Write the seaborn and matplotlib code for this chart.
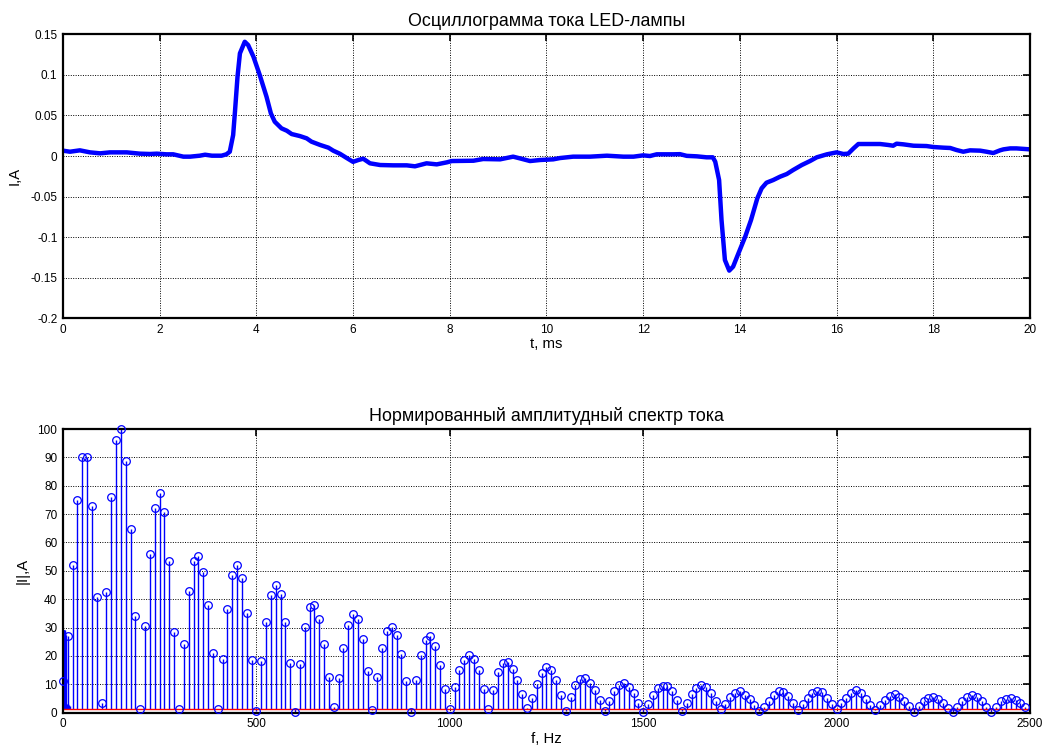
import numpy as np
import pandas as pd
import matplotlib
matplotlib.use("Agg")
import matplotlib.pyplot as plt
import seaborn as sns

# --- current waveform over one mains period (time in ms, current in A) ---
t_ms = [0.00, 0.145, 0.35, 0.56, 0.77, 0.97, 1.32, 1.59, 1.80, 1.94, 2.14, 2.28,
        2.49, 2.63, 2.83, 2.94, 3.08, 3.28, 3.38, 3.45, 3.52, 3.56, 3.61, 3.66,
        3.76, 3.83, 3.94, 4.07, 4.21, 4.30, 4.38, 4.52, 4.63, 4.73, 4.90, 5.04,
        5.14, 5.32, 5.49, 5.59, 5.73, 5.87, 6.00, 6.11, 6.21, 6.35, 6.56, 6.83,
        7.11, 7.28, 7.52, 7.73, 7.94, 8.04, 8.49, 8.69, 9.04, 9.31, 9.45, 9.66,
        9.87, 10.14, 10.28, 10.55, 10.90, 11.25, 11.59, 11.80, 12.00, 12.14, 12.28,
        12.62, 12.76, 12.90, 13.11, 13.31, 13.44, 13.49, 13.57, 13.62, 13.69, 13.78,
        13.86, 13.97, 14.11, 14.23, 14.29, 14.36, 14.45, 14.55, 14.69, 14.83, 14.97,
        15.10, 15.28, 15.45, 15.59, 15.80, 16.00, 16.14, 16.24, 16.35, 16.45, 16.62,
        16.90, 17.07, 17.17, 17.24, 17.38, 17.59, 17.86, 18.00, 18.21, 18.35, 18.48,
        18.62, 18.76, 18.97, 19.10, 19.24, 19.38, 19.45, 19.59, 19.72, 20.00]
i_amp = [0.0066, 0.0053, 0.0070, 0.0045, 0.0033, 0.0045, 0.0045, 0.0029, 0.0025,
         0.0029, 0.0021, 0.0021, -0.0008, -0.0008, 0.0004, 0.0016, 0.0004, 0.0004,
         0.0021, 0.0053, 0.0259, 0.0567, 0.0978, 0.1266, 0.1409, 0.1368, 0.1224,
         0.0998, 0.0731, 0.0526, 0.0423, 0.0341, 0.0312, 0.0271, 0.0246, 0.0218,
         0.0177, 0.0136, 0.0103, 0.0066, 0.0027, -0.0025, -0.0072, -0.0049, -0.0033,
         -0.0090, -0.0111, -0.0115, -0.0115, -0.0127, -0.0090, -0.0103, -0.0078,
         -0.0062, -0.0058, -0.0037, -0.0041, -0.0008, -0.0029, -0.0062, -0.0049,
         -0.0041, -0.0025, -0.0008, -0.0008, 0.0004, -0.0008, -0.0008, 0.0008,
         0.0000, 0.0021, 0.0021, 0.0023, 0.0002, -0.0004, -0.0016, -0.0016, -0.0070,
         -0.0296, -0.0789, -0.1282, -0.1413, -0.1364, -0.1200, -0.0994, -0.0789,
         -0.0666, -0.0522, -0.0398, -0.0329, -0.0296, -0.0255, -0.0222, -0.0173,
         -0.0111, -0.0062, -0.0016, 0.0021, 0.0045, 0.0025, 0.0029, 0.0094, 0.0148,
         0.0148, 0.0148, 0.0136, 0.0127, 0.0152, 0.0144, 0.0127, 0.0123, 0.0111,
         0.0103, 0.0099, 0.0074, 0.0053, 0.0070, 0.0066, 0.0053, 0.0037, 0.0070,
         0.0082, 0.0094, 0.0094, 0.0082]

# --- normalised amplitude spectrum, harmonics spaced 12.5 Hz apart ---
spectrum = [
    11.3, 27.1, 51.9, 74.8, 90.0, 90.0, 72.9, 40.8, 3.3, 42.4,
    76.1, 96.2, 100.0, 88.6, 64.9, 34.0, 1.4, 30.5, 55.8, 72.0,
    77.4, 70.7, 53.5, 28.6, 1.4, 24.1, 42.9, 53.5, 55.4, 49.6,
    37.9, 21.1, 1.4, 19.1, 36.6, 48.4, 52.1, 47.4, 35.3, 18.5,
    0.6, 18.1, 32.1, 41.5, 44.9, 41.8, 32.1, 17.4, 0.2, 17.1,
    30.2, 37.2, 37.9, 33.1, 24.1, 12.7, 2.1, 12.1, 22.8, 30.9,
    34.7, 33.1, 26.0, 14.6, 0.9, 12.7, 22.8, 28.9, 30.2, 27.4,
    20.7, 11.2, 0.2, 11.4, 20.4, 25.8, 27.2, 23.5, 16.8, 8.2,
    1.4, 8.9, 15.1, 18.7, 20.4, 19.1, 15.1, 8.5, 1.4, 8.0,
    14.2, 17.4, 18.0, 15.5, 11.5, 6.7, 1.8, 5.1, 10.2, 14.0,
    16.1, 14.9, 11.4, 6.4, 0.6, 5.4, 9.8, 11.8, 12.2, 10.6,
    8.0, 4.5, 0.6, 4.0, 7.6, 9.6, 10.4, 8.9, 6.8, 3.5,
    0.4, 3.2, 6.4, 8.6, 9.5, 9.3, 7.5, 4.4, 0.6, 3.5,
    6.7, 8.8, 9.6, 8.9, 7.1, 4.1, 1.2, 3.2, 5.6, 7.1,
    7.5, 6.4, 4.7, 2.7, 0.6, 2.0, 4.3, 6.2, 7.8, 7.4,
    5.9, 3.5, 0.9, 3.1, 5.3, 6.9, 7.6, 7.3, 5.3, 2.9,
    1.2, 3.3, 5.3, 7.1, 7.9, 6.8, 4.8, 2.7, 0.9, 2.7,
    4.5, 6.0, 6.7, 5.6, 4.0, 2.4, 0.4, 2.4, 4.2, 5.3,
    5.6, 4.8, 3.5, 1.8, 0.2, 2.1, 4.2, 5.6, 6.4, 5.6,
    4.1, 2.1, 0.1, 2.1, 4.0, 4.9, 5.1, 4.5, 3.5, 1.9,
]
freq_step_hz = 12.5
freq_hz = np.arange(len(spectrum)) * freq_step_hz

# dense near-DC components (drawn as bare stems)
dc_freq = [0.5, 1.5, 2.5, 3.5, 4.5, 5.5, 6.5, 7.5, 9.0, 11.0, 13.0, 15.0, 17.0]
dc_mag = [29.0, 29.0, 29.0, 29.0, 29.0, 28.5, 28.0, 27.5, 3.0, 3.0, 3.0, 2.8, 2.5]

baseline_level = 1.2

sns.set_style("white")
plt.rcParams["font.family"] = ["Liberation Sans", "DejaVu Sans"]
plt.rcParams["text.color"] = "black"
plt.rcParams["axes.labelcolor"] = "black"
plt.rcParams["xtick.color"] = "black"
plt.rcParams["ytick.color"] = "black"

BLUE = "#0000ff"

fig = plt.figure(figsize=(10.44, 7.47), dpi=100)
ax1 = fig.add_axes([0.0603, 0.574, 0.9263, 0.380])
ax2 = fig.add_axes([0.0603, 0.0459, 0.9263, 0.3798])

# top: oscillogram
wave = pd.DataFrame({"t": t_ms, "i": i_amp})
sns.lineplot(data=wave, x="t", y="i", ax=ax1, color=BLUE, linewidth=3.2,
             estimator=None, sort=False)
ax1.set_xlim(0, 20)
ax1.set_ylim(-0.2, 0.15)
ax1.set_xticks(np.arange(0, 21, 2))
ax1.set_yticks(np.arange(-0.2, 0.151, 0.05))
ax1.set_yticklabels(["-0.2", "-0.15", "-0.1", "-0.05", "0", "0.05", "0.1", "0.15"])
ax1.set_title("Осциллограмма тока LED-лампы", fontsize=12.9, pad=6, color="black")
ax1.set_xlabel("t, ms", fontsize=10.7, labelpad=1)
ax1.set_ylabel("I,A", fontsize=10.7, labelpad=6)

# bottom: amplitude spectrum as stems
ax2.vlines(dc_freq, baseline_level, dc_mag, color=BLUE, linewidth=1.0)
markerline, stemlines, baseline = ax2.stem(freq_hz, spectrum, bottom=baseline_level,
                                           basefmt="r-")
plt.setp(stemlines, color=BLUE, linewidth=1.0)
plt.setp(markerline, color=BLUE, marker="o", markersize=5.5,
         markerfacecolor="none", markeredgecolor=BLUE, markeredgewidth=0.9,
         clip_on=False, zorder=4)
plt.setp(baseline, color="red", linewidth=1.0)
baseline.set_xdata([0, 2500])
ax2.set_xlim(0, 2500)
ax2.set_ylim(0, 100)
ax2.set_xticks(np.arange(0, 2501, 500))
ax2.set_yticks(np.arange(0, 101, 10))
ax2.set_title("Нормированный амплитудный спектр тока", fontsize=12.9, pad=6,
              color="black")
ax2.set_xlabel("f, Hz", fontsize=10.7, labelpad=1)
ax2.set_ylabel("|I|,A", fontsize=10.7, labelpad=6)

for ax in (ax1, ax2):
    ax.grid(True, color="black", linestyle=(0, (1, 1.5)), linewidth=0.7)
    ax.set_axisbelow(True)
    ax.tick_params(direction="in", length=5, width=1.2, labelsize=8.5,
                   top=True, right=True, pad=4, colors="black")
    for s in ax.spines.values():
        s.set_visible(True)
        s.set_color("black")
        s.set_linewidth(1.6)

fig.savefig("out.png", dpi=100)
